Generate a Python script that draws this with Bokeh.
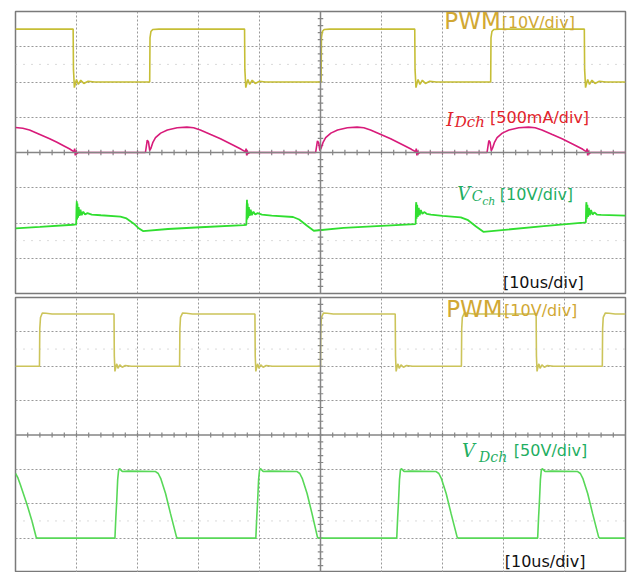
import numpy as np
from bokeh.plotting import figure
from bokeh.layouts import column
from bokeh.models import Grid, FixedTicker, Span, Label
from bokeh.embed import file_html
from bokeh.resources import INLINE

# ---------------- data (time in us, amplitude in screen divisions) ----------------
# Top screen: PWM [10V/div]
pwm1_t = [0, 9.45, 9.5, 9.55, 9.65, 9.8, 10.0, 10.3, 10.7, 11.2, 11.9, 13.0,
          22.0, 22.05, 22.2, 22.5, 23.5,
          37.55, 37.6, 37.65, 37.75, 37.9, 38.1, 38.4, 38.8, 39.3, 40.0, 41.0,
          50.1, 50.15, 50.3, 50.6, 51.5,
          65.45, 65.5, 65.55, 65.65, 65.8, 66.0, 66.3, 66.7, 67.2, 67.9, 69.0,
          77.9, 77.95, 78.1, 78.4, 79.3,
          93.25, 93.3, 93.35, 93.45, 93.6, 93.8, 94.1, 94.5, 95.0, 95.7, 96.8, 100]
pwm1_v = [3.5, 3.5, 2.35, 2.2, 1.84, 1.95, 2.07, 1.93, 2.05, 1.96, 2.02, 2.0,
          2.0, 3.25, 3.43, 3.49, 3.5,
          3.5, 2.35, 2.2, 1.84, 1.95, 2.07, 1.93, 2.05, 1.96, 2.02, 2.0,
          2.0, 3.25, 3.43, 3.49, 3.5,
          3.5, 2.35, 2.2, 1.84, 1.95, 2.07, 1.93, 2.05, 1.96, 2.02, 2.0,
          2.0, 3.25, 3.43, 3.49, 3.5,
          3.5, 2.35, 2.2, 1.84, 1.95, 2.07, 1.93, 2.05, 1.96, 2.02, 2.0, 2.0]

# Top screen: I_Dch [500mA/div]
idch_t = [0, 1.2, 2.3, 3.9, 5.6, 6.8, 7.8, 8.9, 9.6, 9.7, 9.8, 9.9, 10.0, 10.3,
          21.3, 21.6, 21.8, 22.0, 22.2, 22.5, 22.95, 23.8, 24.9, 26.5, 28.1, 29.2, 30.3,
          32.0, 33.6, 35.8, 37.0, 37.7, 37.8, 37.9, 38.0, 38.1, 38.4,
          49.2, 49.5, 49.7, 49.9, 50.1, 50.4, 50.85, 51.7, 52.8, 54.4, 56.0, 57.1, 58.2,
          59.9, 61.5, 63.7, 64.9, 65.6, 65.7, 65.8, 65.9, 66.0, 66.3,
          77.3, 77.6, 77.8, 78.0, 78.2, 78.5, 78.95, 79.8, 80.9, 82.5, 84.1, 85.2, 86.3,
          88.0, 89.6, 91.8, 93.0, 93.6, 93.7, 93.8, 93.9, 94.0, 94.3, 100]
idch_v = [0.71, 0.69, 0.64, 0.52, 0.39, 0.29, 0.2, 0.1, 0.02, 0.11, -0.08, 0.05, -0.03, 0.0,
          0.0, 0.35, 0.3, 0.06, 0.12, 0.28, 0.42, 0.55, 0.64, 0.7, 0.72, 0.7, 0.64,
          0.51, 0.39, 0.2, 0.09, 0.02, 0.11, -0.08, 0.05, -0.03, 0.0,
          0.0, 0.33, 0.28, 0.05, 0.12, 0.28, 0.42, 0.55, 0.64, 0.7, 0.72, 0.7, 0.64,
          0.51, 0.39, 0.2, 0.09, 0.02, 0.11, -0.08, 0.05, -0.03, 0.0,
          0.0, 0.34, 0.29, 0.05, 0.12, 0.28, 0.42, 0.55, 0.64, 0.7, 0.72, 0.7, 0.64,
          0.51, 0.39, 0.2, 0.09, 0.02, 0.11, -0.08, 0.05, -0.03, 0.0, 0.0]

# Top screen: V_Cch [10V/div]
vcch_t = [0, 4.0, 9.4, 9.95, 10.0, 10.05, 10.1, 10.15, 10.25, 10.35, 10.5, 10.65, 10.85,
          11.1, 11.4, 11.8, 12.5, 14.0, 17.2, 18.2, 19.4, 20.2, 20.9, 25.0, 30.3,
          37.4, 37.85, 37.9, 37.95, 38.0, 38.05, 38.15, 38.25, 38.4, 38.55, 38.75,
          39.0, 39.3, 39.7, 40.4, 42.0, 45.5, 46.5, 47.8, 48.9, 53.8, 60.0,
          65.5, 65.6, 65.65, 65.7, 65.75, 65.85, 65.95, 66.1, 66.25, 66.45,
          66.7, 67.0, 67.4, 68.1, 70.0, 73.0, 74.2, 75.5, 76.7, 86.6,
          93.1, 93.5, 93.55, 93.6, 93.65, 93.75, 93.85, 94.0, 94.15, 94.35,
          94.6, 94.9, 95.3, 96.0, 100]
vcch_v = [-2.15, -2.11, -2.05, -2.04, -1.55, -1.38, -1.9, -1.45, -1.85, -1.55, -1.8, -1.62, -1.78,
          -1.68, -1.76, -1.72, -1.76, -1.78, -1.82, -1.87, -2.02, -2.15, -2.23, -2.17, -2.12,
          -2.06, -2.05, -1.55, -1.34, -1.9, -1.45, -1.85, -1.55, -1.8, -1.62, -1.78,
          -1.68, -1.76, -1.72, -1.76, -1.79, -1.83, -1.9, -2.08, -2.22, -2.14, -2.08,
          -2.03, -2.02, -1.5, -1.41, -1.88, -1.48, -1.83, -1.57, -1.78, -1.63,
          -1.74, -1.69, -1.74, -1.76, -1.8, -1.84, -1.92, -2.1, -2.25, -2.09,
          -1.99, -1.98, -1.5, -1.41, -1.88, -1.48, -1.83, -1.57, -1.78, -1.63,
          -1.76, -1.7, -1.76, -1.77, -1.79]

# Bottom screen: PWM [10V/div]
pwm2_t = [0, 3.93, 3.98, 4.1, 4.4, 5.0, 6.0,
          16.15, 16.2, 16.3, 16.45, 16.6, 16.8, 17.1, 17.5, 18.0, 19.0,
          26.9, 26.95, 27.05, 27.4, 28.0, 29.0,
          39.25, 39.3, 39.4, 39.55, 39.7, 39.9, 40.2, 40.6, 41.1, 42.1,
          50.0, 50.05, 50.15, 50.5, 51.1, 52.1,
          62.25, 62.3, 62.4, 62.55, 62.7, 62.9, 63.2, 63.6, 64.1, 65.1,
          73.1, 73.15, 73.25, 73.6, 74.2, 75.2,
          85.35, 85.4, 85.5, 85.65, 85.8, 86.0, 86.3, 86.7, 87.2, 88.2,
          96.2, 96.25, 96.35, 96.7, 97.3, 98.3, 100]
pwm2_v = [2.0, 2.0, 3.1, 3.42, 3.55, 3.54, 3.52,
          3.52, 2.3, 1.85, 1.98, 2.07, 1.94, 2.04, 1.97, 2.02, 2.0,
          2.0, 3.1, 3.42, 3.55, 3.54, 3.52,
          3.52, 2.3, 1.85, 1.98, 2.07, 1.94, 2.04, 1.97, 2.02, 2.0,
          2.0, 3.1, 3.42, 3.55, 3.54, 3.52,
          3.52, 2.3, 1.85, 1.98, 2.07, 1.94, 2.04, 1.97, 2.02, 2.0,
          2.0, 3.1, 3.42, 3.55, 3.54, 3.52,
          3.52, 2.3, 1.85, 1.98, 2.07, 1.94, 2.04, 1.97, 2.02, 2.0,
          2.0, 3.1, 3.42, 3.55, 3.54, 3.52, 3.52]

# Bottom screen: V_Dch [50V/div]
vdch_t = [0, 0.4, 0.8, 1.9, 2.7, 3.4, 3.6,
          16.3, 16.45, 16.6, 16.75, 16.9, 17.05, 17.5, 18.5, 22.9, 23.4, 23.8, 24.6, 25.4, 26.4, 26.6,
          39.4, 39.55, 39.7, 39.85, 40.0, 40.15, 40.6, 41.6, 46.1, 46.6, 47.0, 47.8, 48.6, 49.5, 49.7,
          62.5, 62.65, 62.8, 62.95, 63.1, 63.25, 63.7, 64.7, 68.9, 69.4, 69.8, 70.6, 71.4, 72.4, 72.6,
          85.6, 85.75, 85.9, 86.05, 86.2, 86.35, 86.8, 87.8, 92.1, 92.6, 93.0, 93.8, 94.6, 95.6, 95.8,
          100]
vdch_v = [-1.12, -1.25, -1.45, -2.03, -2.5, -2.98, -3.0,
          -3.0, -2.4, -1.9, -1.3, -1.03, -0.98, -1.06, -1.05, -1.06, -1.12, -1.26, -1.7, -2.28, -2.97, -3.0,
          -3.0, -2.4, -1.9, -1.3, -1.03, -0.98, -1.06, -1.05, -1.06, -1.12, -1.26, -1.7, -2.28, -2.97, -3.0,
          -3.0, -2.4, -1.9, -1.3, -1.03, -0.98, -1.06, -1.05, -1.06, -1.12, -1.26, -1.7, -2.28, -2.97, -3.0,
          -3.0, -2.4, -1.9, -1.3, -1.03, -0.98, -1.06, -1.05, -1.06, -1.12, -1.26, -1.7, -2.28, -2.97, -3.0,
          -3.0]

# ---------------- styling ----------------
GRID_C = "#999999"
AXIS_C = "#858585"
PWM_TXT = "#D1A834"
SANS = "DejaVu Sans"
SERIF = "DejaVu Serif"


def scope_screen(height, top, bottom):
    p = figure(width=629, height=height, x_range=(0, 100), y_range=(-4, 4),
               output_backend="svg", toolbar_location=None,
               x_axis_type=None, y_axis_type=None,
               min_border_left=15, min_border_right=4,
               min_border_top=top, min_border_bottom=bottom)
    p.outline_line_color = "#7a7a7a"
    p.outline_line_width = 1.5
    p.background_fill_color = "white"
    p.border_fill_color = "white"
    ticks_x = [10, 20, 30, 40, 60, 70, 80, 90]
    ticks_y = [-3, -2, -1, 1, 2, 3]
    p.add_layout(Grid(dimension=0, ticker=FixedTicker(ticks=ticks_x),
                      grid_line_color=GRID_C, grid_line_dash="2 2", grid_line_width=1))
    p.add_layout(Grid(dimension=1, ticker=FixedTicker(ticks=ticks_y),
                      grid_line_color=GRID_C, grid_line_dash="2 2", grid_line_width=1))
    for yv in (2.5, -2.5):
        p.add_layout(Span(location=yv, dimension="width", line_color="#b5b5b5",
                          line_dash="1 7", line_width=1))
    # centre cross with minor ticks
    p.add_layout(Span(location=0, dimension="width", line_color=AXIS_C, line_width=1.5))
    p.add_layout(Span(location=50, dimension="height", line_color=AXIS_C, line_width=1.5))
    xs = np.arange(0, 100.01, 2.0)
    p.segment(x0=xs, y0=-0.075, x1=xs, y1=0.075, line_color=AXIS_C, line_width=1.2)
    ys = np.arange(-4, 4.01, 0.2)
    p.segment(x0=49.55, y0=ys, x1=50.45, y1=ys, line_color=AXIS_C, line_width=1.2)
    return p


def lab(p, x, y, text, font, size, color, style="normal"):
    p.add_layout(Label(x=x, y=y, text=text, text_font=font, text_font_size=size,
                       text_color=color, text_font_style=style,
                       text_baseline="alphabetic", text_align="left"))


# ---------------- top screen ----------------
p1 = scope_screen(295, 11, 2)
p1.line(pwm1_t, pwm1_v, line_color="#C6BE36", line_width=1.6)
p1.line(idch_t, idch_v, line_color="#D81B7A", line_width=1.6)
p1.line(vcch_t, vcch_v, line_color="#30DE30", line_width=1.8)

lab(p1, 70.3, 3.72, "PWM", SANS, "23px", PWM_TXT)
lab(p1, 79.7, 3.70, "[10V/div]", SANS, "16px", PWM_TXT)
lab(p1, 70.6, 0.95, "I", SERIF, "18px", "#E3232B", "italic")
lab(p1, 72.0, 0.87, "Dch", SERIF, "15px", "#E3232B", "italic")
lab(p1, 77.8, 1.0, "[500mA/div]", SANS, "16px", "#E3232B")
lab(p1, 72.4, -1.16, "V", SERIF, "18px", "#1FAE62", "italic")
lab(p1, 74.8, -1.24, "C", SERIF, "14px", "#1FAE62", "italic")
lab(p1, 76.5, -1.38, "ch", SERIF, "11px", "#1FAE62", "italic")
lab(p1, 79.4, -1.19, "[10V/div]", SANS, "16px", "#1FAE62")
lab(p1, 79.9, -3.7, "[10us/div]", SANS, "16px", "#111111")

# ---------------- bottom screen ----------------
p2 = scope_screen(277, 2, 0)
p2.line(pwm2_t, pwm2_v, line_color="#CCC45A", line_width=1.6)
p2.line(vdch_t, vdch_v, line_color="#58D858", line_width=1.6)

lab(p2, 70.6, 3.67, "PWM", SANS, "23px", PWM_TXT)
lab(p2, 80.1, 3.62, "[10V/div]", SANS, "16px", PWM_TXT)
lab(p2, 73.2, -0.44, "V", SERIF, "18px", "#1FAE62", "italic")
lab(p2, 76.0, -0.63, "Dch", SERIF, "14px", "#1FAE62", "italic")
lab(p2, 81.7, -0.44, "[50V/div]", SANS, "16px", "#1FAE62")
lab(p2, 80.2, -3.68, "[10us/div]", SANS, "16px", "#111111")

layout = column(p1, p2, spacing=0)
open("out.html", "w").write(file_html(layout, INLINE))
